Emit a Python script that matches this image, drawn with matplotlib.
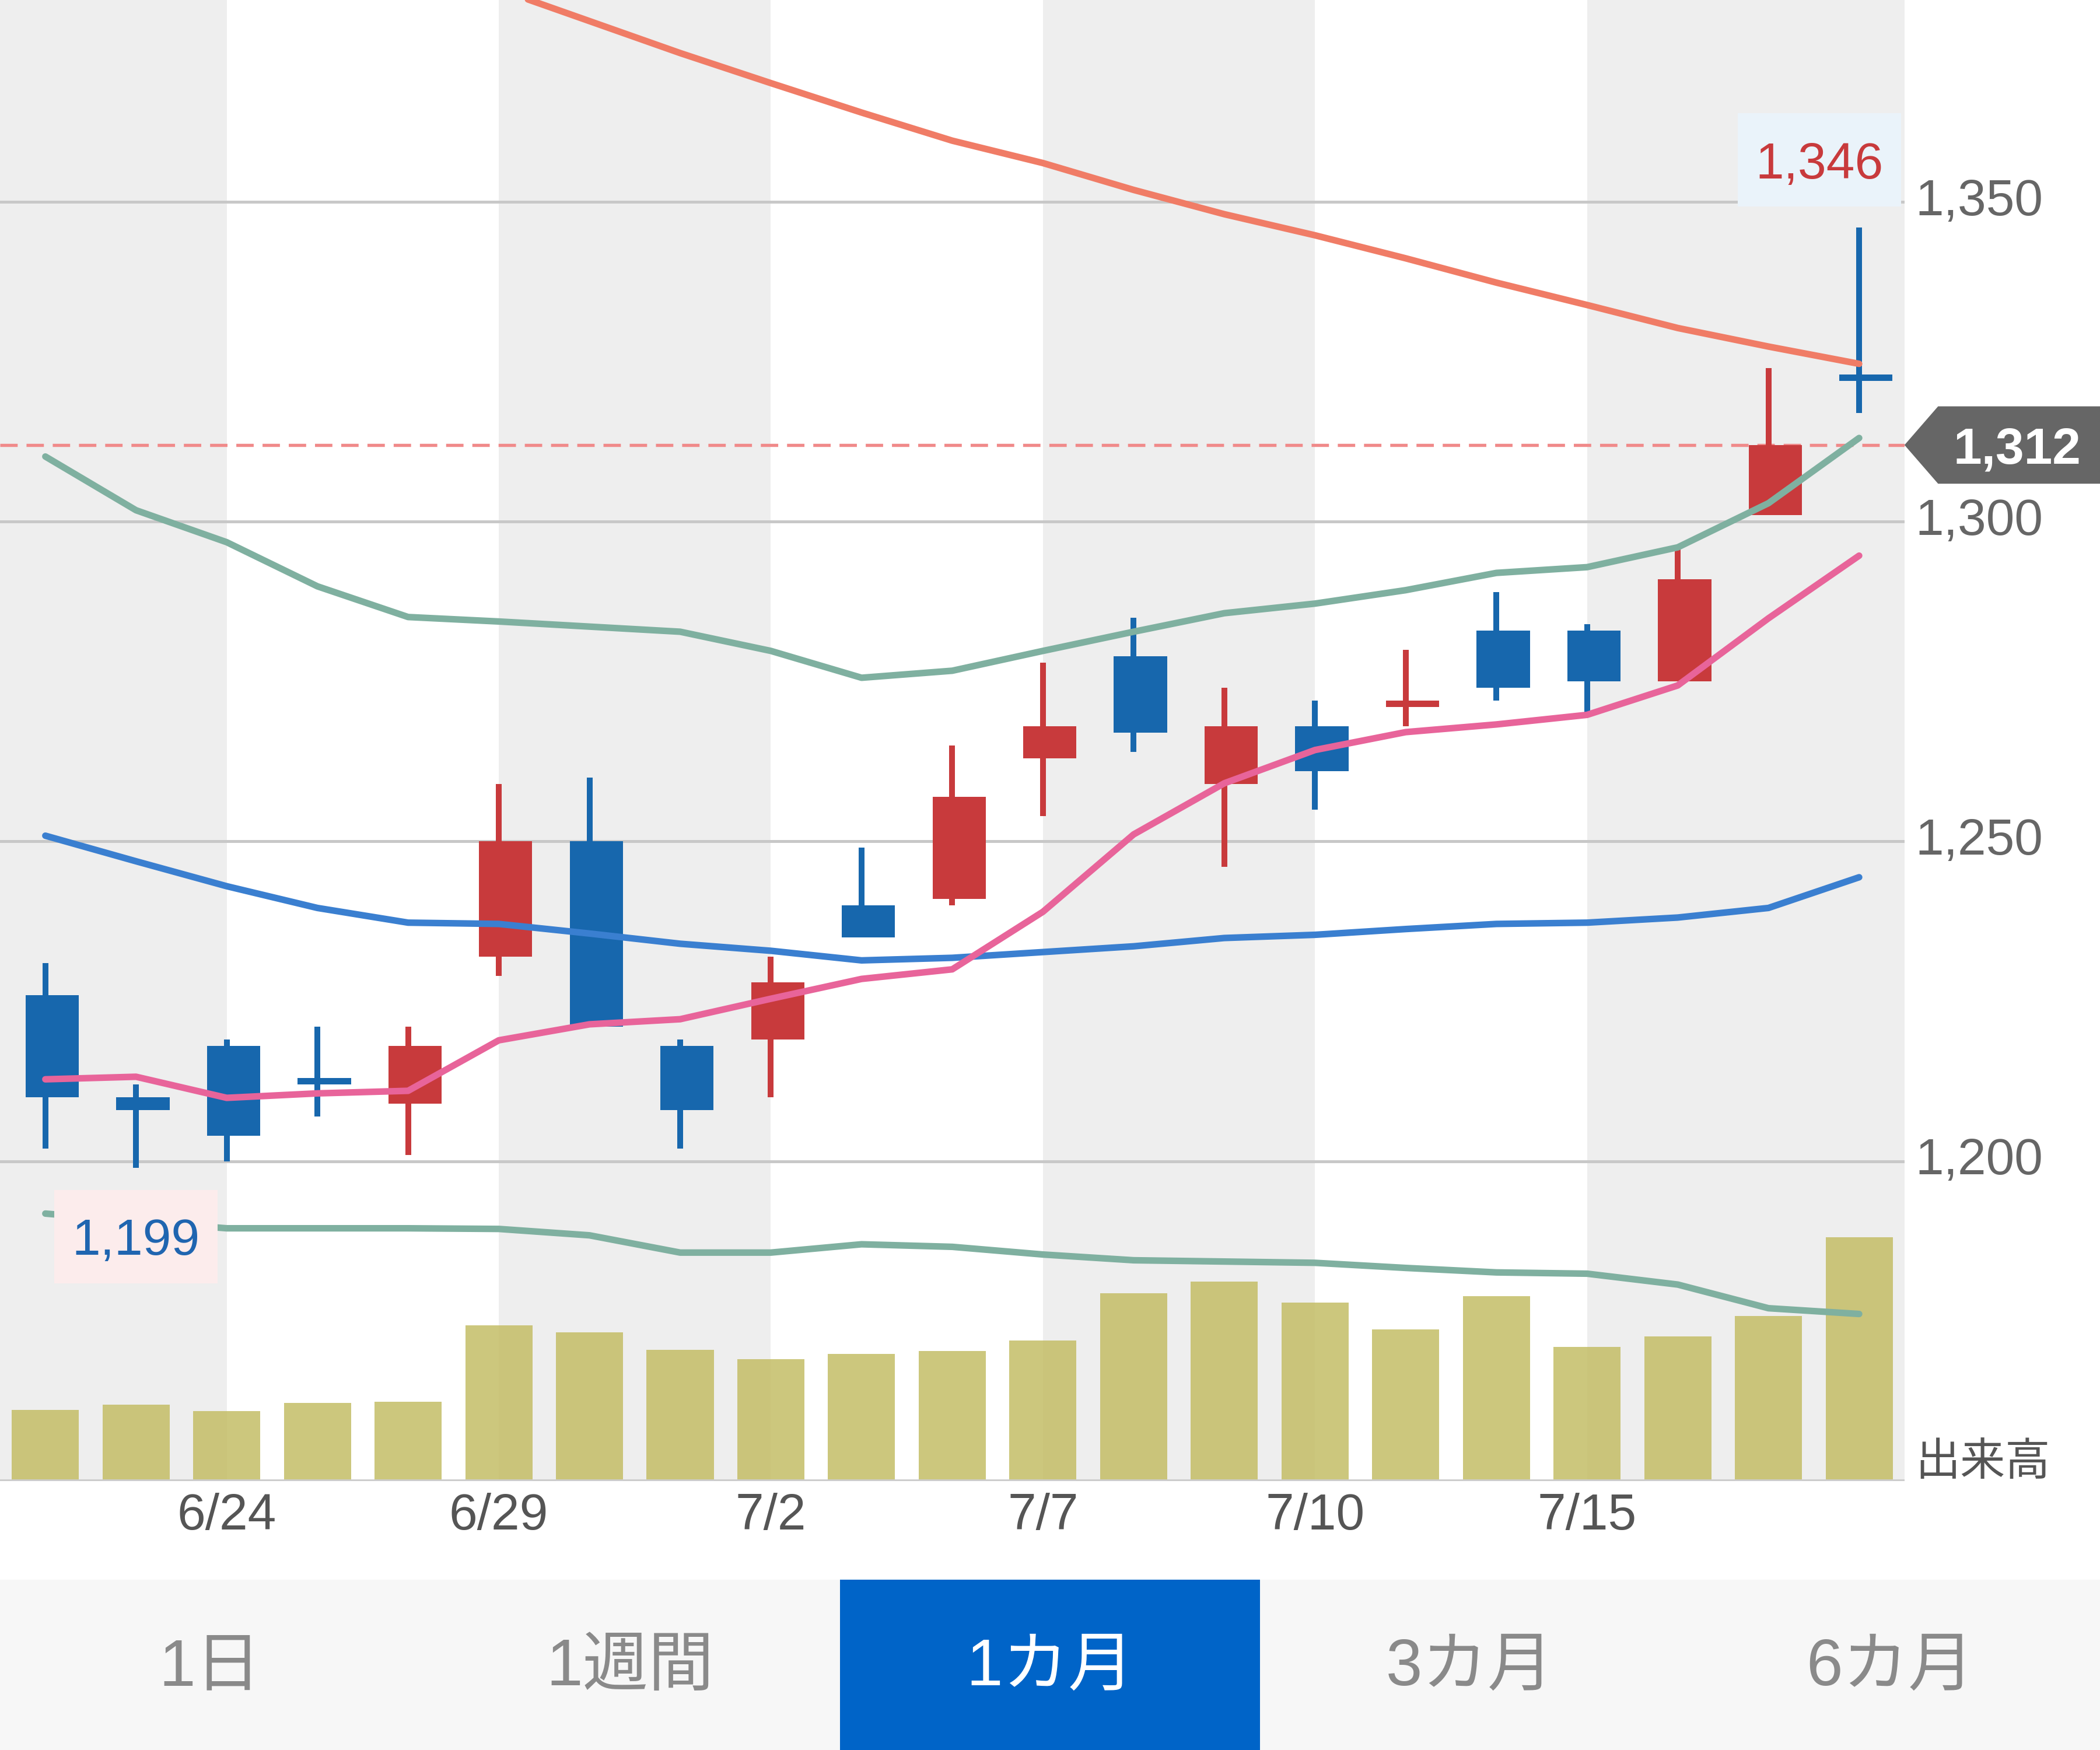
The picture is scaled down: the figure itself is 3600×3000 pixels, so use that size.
import numpy as np
import matplotlib.pyplot as plt
from matplotlib.patches import Rectangle, Polygon
from matplotlib.transforms import blended_transform_factory

plt.rcParams['font.family'] = ['Liberation Sans', 'Noto Sans CJK JP', 'DejaVu Sans']

# daily candles, 6/22 - 7/20
dates = ["6/22", "6/23", "6/24", "6/25", "6/26", "6/29", "6/30", "7/1", "7/2", "7/3", "7/6",
         "7/7", "7/8", "7/9", "7/10", "7/13", "7/14", "7/15", "7/16", "7/17", "7/20"]
opens = [1226, 1210, 1218, 1213, 1209, 1232, 1250, 1218, 1219, 1240, 1241,
         1263, 1279, 1259, 1268, 1271, 1283, 1283, 1275, 1301, 1323]
highs = [1231, 1212, 1219, 1221, 1221, 1259, 1260, 1219, 1232, 1249, 1265,
         1278, 1285, 1274, 1272, 1280, 1289, 1284, 1296, 1324, 1346]
lows = [1202, 1199, 1200, 1207, 1201, 1229, 1221, 1202, 1210, 1235, 1240,
        1254, 1264, 1246, 1255, 1268, 1272, 1270, 1275, 1301, 1317]
closes = [1210, 1208, 1204, 1212, 1218, 1250, 1221, 1208, 1228, 1235, 1257,
          1268, 1267, 1268, 1261, 1272, 1274, 1275, 1291, 1312, 1322]
volumes = [106, 114, 104, 116, 118, 232, 222, 196, 182, 190, 194,
           210, 280, 298, 266, 226, 276, 200, 216, 246, 364]

ma5 = [1212.8, 1213.2, 1209.9, 1210.6, 1211.0, 1218.9, 1221.4, 1222.2, 1225.4, 1228.5, 1230.0,
       1239.0, 1251.1, 1259.1, 1264.3, 1267.1, 1268.3, 1269.8, 1274.4, 1284.9, 1294.7]
ma25 = [1250.9, 1246.9, 1243.0, 1239.6, 1237.3, 1237.1, 1235.6, 1234.0, 1232.9, 1231.4, 1231.8,
        1232.7, 1233.6, 1234.9, 1235.4, 1236.3, 1237.1, 1237.3, 1238.1, 1239.6, 1244.4]
ma75 = [np.nan, np.nan, np.nan, np.nan, np.nan, 1383.3, 1378.3, 1373.3, 1368.6, 1364.0, 1359.6,
        1356.1, 1351.9, 1348.1, 1344.8, 1341.2, 1337.4, 1333.9, 1330.3, 1327.4, 1324.7]
bb_upper = [1310.2, 1301.8, 1296.8, 1289.9, 1285.1, 1284.4, 1283.6, 1282.8, 1279.8, 1275.6, 1276.7,
            1279.8, 1282.8, 1285.7, 1287.2, 1289.3, 1292.0, 1292.9, 1296.0, 1302.9, 1313.1]
bb_lower = [1191.8, 1190.6, 1189.5, 1189.5, 1189.5, 1189.4, 1188.4, 1185.7, 1185.7, 1187.0, 1186.6,
            1185.4, 1184.5, 1184.3, 1184.1, 1183.3, 1182.6, 1182.4, 1180.7, 1177.0, 1176.1]

tick_idx = [2, 5, 8, 11, 14, 17]
yticks = [1200, 1250, 1300, 1350]
last_price = 1312
tabs = ["1日", "1週間", "1カ月", "3カ月", "6カ月"]
selected_tab = 2

UP = '#c83a3c'
DOWN = '#1767ad'
GREY = '#666666'

x = np.arange(len(dates))
xlim = (-0.5, 20.5)
ylim = (1150, 1381.6)

fig = plt.figure(figsize=(12, 10), dpi=300)
rect = [0, 0.1538, 0.9069, 0.8462]

# volume axes at the back, carries the shaded bands
ax_vol = fig.add_axes(rect)
ax_vol.set_xlim(*xlim)
ax_vol.set_ylim(0, 2212)
edges = [xlim[0]] + tick_idx + [xlim[1]]
for k in range(len(edges) - 1):
    if k % 2 == 0:
        ax_vol.axvspan(edges[k], edges[k + 1], color='#eeeeee', lw=0, zorder=0)
ax_vol.bar(x, volumes, width=0.74, color='#c4bd66', alpha=0.85, lw=0, zorder=2)
ax_vol.axhline(0, color='#cccccc', lw=1.4, zorder=3)
ax_vol.set_xticks([])
ax_vol.set_yticks([])
for s in ax_vol.spines.values():
    s.set_visible(False)

# price axes on top
ax = fig.add_axes(rect)
ax.patch.set_alpha(0)
ax.set_xlim(*xlim)
ax.set_ylim(*ylim)
for s in ax.spines.values():
    s.set_visible(False)

for v in yticks:
    ax.axhline(v, color='#c8c8c8', lw=1.2, zorder=1)
ax.axhline(last_price, color='#f08a8a', lw=1.3, dashes=(5.5, 2.8), zorder=2)

for i in range(len(dates)):
    c = UP if closes[i] > opens[i] else DOWN
    ax.vlines(x[i], lows[i], highs[i], color=c, lw=2.4, zorder=3)
    lo = min(opens[i], closes[i])
    h = max(abs(closes[i] - opens[i]), 1)
    ax.add_patch(Rectangle((x[i] - 0.218, lo), 0.587, h, color=c, lw=0, zorder=3))

ax.plot(x, ma75, color='#f07c66', lw=2.7, zorder=4, solid_capstyle='round')
ax.plot(x, ma25, color='#3a7fd0', lw=2.7, zorder=4, solid_capstyle='round')
ax.plot(x, bb_upper, color='#7fb0a0', lw=2.7, zorder=4, solid_capstyle='round')
ax.plot(x, bb_lower, color='#7fb0a0', lw=2.7, zorder=4, solid_capstyle='round')
ax.plot(x, ma5, color='#e8649a', lw=2.7, zorder=4, solid_capstyle='round')

# high / low markers
bw, bh = 1.8, 14.6
hi_i = int(np.argmax(highs))
hx = min(x[hi_i] + bw / 2, xlim[1] - 0.04) - bw / 2
hy = highs[hi_i] + 10.6
ax.add_patch(Rectangle((hx - bw / 2, hy - bh / 2), bw, bh, color='#eaf3fa', lw=0, zorder=5))
ax.text(hx, hy, f"{highs[hi_i]:,}", color=UP, fontsize=21, ha='center', va='center_baseline', zorder=6)
lo_i = int(np.argmin(lows))
lx = x[lo_i]
ly = lows[lo_i] - 10.8
ax.add_patch(Rectangle((lx - bw / 2, ly - bh / 2), bw, bh, color='#fcecec', lw=0, zorder=5))
ax.text(lx, ly, f"{lows[lo_i]:,}", color='#1f65b0', fontsize=21, ha='center', va='center_baseline', zorder=6)

# current price tag on the right
tr = blended_transform_factory(fig.transFigure, ax.transData)
tip = rect[0] + rect[2]
tag = Polygon([(tip, last_price), (tip + 0.016, last_price + 6.05), (1.0, last_price + 6.05),
               (1.0, last_price - 6.05), (tip + 0.016, last_price - 6.05)],
              closed=True, color=GREY, lw=0, transform=tr, clip_on=False, zorder=6)
ax.add_patch(tag)
ax.text(0.9605, last_price, f"{last_price:,}", color='white', fontsize=21, fontweight='bold',
        ha='center', va='center_baseline', transform=tr, clip_on=False, zorder=7)

ax.yaxis.tick_right()
ax.set_yticks(yticks)
ax.set_yticklabels([f"{v:,}" for v in yticks])
ax.tick_params(axis='y', length=0, pad=4.5, labelsize=21, labelcolor=GREY)
for lab in ax.get_yticklabels():
    lab.set_va('center')
ax.set_xticks(tick_idx)
ax.set_xticklabels([dates[i] for i in tick_idx])
ax.tick_params(axis='x', length=0, pad=5, labelsize=21, labelcolor='#555555')
ax.text(1.0056, 0.012, "出来高", transform=ax.transAxes, fontsize=18.5, color='#555555',
        ha='left', va='center')

# period tabs
ax_tab = fig.add_axes([0, 0, 1, 0.0972])
ax_tab.set_xlim(0, len(tabs))
ax_tab.set_ylim(0, 1)
ax_tab.axis('off')
ax_tab.add_patch(Rectangle((0, 0), len(tabs), 1, color='#f7f7f7', lw=0))
ax_tab.add_patch(Rectangle((selected_tab, 0), 1, 1, color='#0064c8', lw=0))
for k, t in enumerate(tabs):
    col = 'white' if k == selected_tab else '#8a8a8a'
    ax_tab.text(k + 0.5, 0.48, t, color=col, fontsize=27, ha='center', va='center')

fig.savefig('out.png', dpi=300, facecolor='white')
